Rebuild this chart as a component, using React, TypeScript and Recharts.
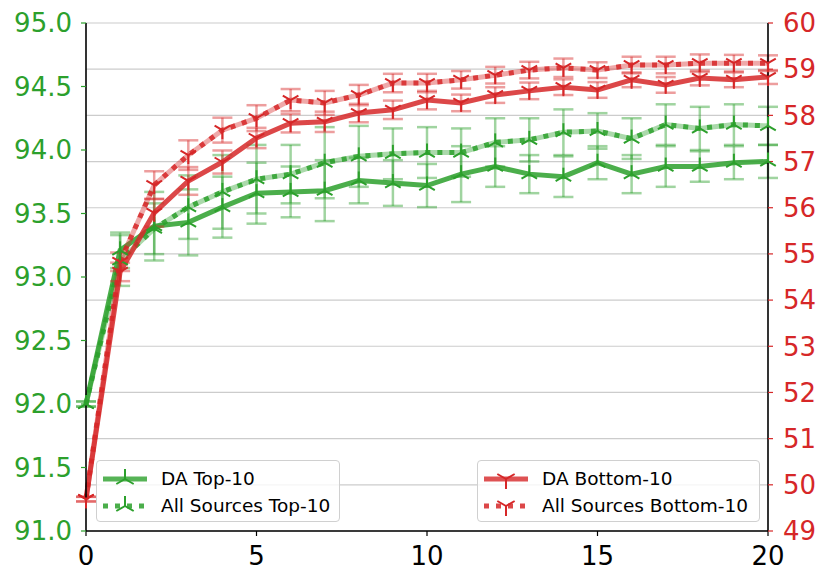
import React from 'react';
import { LineChart, Line, XAxis, YAxis, CartesianGrid, ErrorBar } from 'recharts';

const GREEN = '#2ca02c';
const RED = '#d62728';
const FONT = '"DejaVu Sans", sans-serif';

const epochs = [0, 1, 2, 3, 4, 5, 6, 7, 8, 9, 10, 11, 12, 13, 14, 15, 16, 17, 18, 19, 20];

const daTop = [92.0, 93.21, 93.4, 93.43, 93.55, 93.66, 93.67, 93.68, 93.76, 93.74, 93.72, 93.81, 93.87, 93.81, 93.79, 93.9, 93.81, 93.87, 93.87, 93.9, 93.91];
const daTopErr = [0.02, 0.14, 0.27, 0.26, 0.24, 0.24, 0.2, 0.24, 0.18, 0.18, 0.17, 0.22, 0.16, 0.15, 0.16, 0.13, 0.15, 0.16, 0.12, 0.13, 0.13];

const allTop = [92.0, 93.13, 93.38, 93.55, 93.67, 93.77, 93.81, 93.9, 93.95, 93.97, 93.98, 93.98, 94.06, 94.08, 94.14, 94.15, 94.09, 94.2, 94.17, 94.2, 94.19];
const allTopErr = [0.02, 0.2, 0.2, 0.25, 0.29, 0.27, 0.23, 0.28, 0.24, 0.2, 0.2, 0.19, 0.19, 0.17, 0.18, 0.14, 0.16, 0.16, 0.17, 0.16, 0.15];

const daBottom = [49.69, 54.61, 55.89, 56.58, 56.99, 57.51, 57.83, 57.86, 58.05, 58.12, 58.33, 58.27, 58.44, 58.53, 58.61, 58.55, 58.77, 58.66, 58.81, 58.77, 58.83];
const daBottomErr = [0.05, 0.2, 0.3, 0.3, 0.25, 0.22, 0.2, 0.22, 0.2, 0.2, 0.2, 0.18, 0.17, 0.18, 0.17, 0.17, 0.16, 0.17, 0.16, 0.16, 0.15];

const allBottom = [49.69, 54.83, 56.49, 57.14, 57.68, 57.94, 58.33, 58.27, 58.44, 58.7, 58.7, 58.77, 58.87, 58.98, 59.03, 58.98, 59.09, 59.09, 59.13, 59.13, 59.13];
const allBottomErr = [0.05, 0.2, 0.3, 0.32, 0.27, 0.28, 0.24, 0.26, 0.22, 0.2, 0.2, 0.19, 0.18, 0.18, 0.2, 0.17, 0.18, 0.18, 0.19, 0.18, 0.17];

const leftTicks = [91.0, 91.5, 92.0, 92.5, 93.0, 93.5, 94.0, 94.5, 95.0];
const rightTicks = [49, 50, 51, 52, 53, 54, 55, 56, 57, 58, 59, 60];
const xTicks = [0, 5, 10, 15, 20];

const data = epochs.map((e, i) => ({
  epoch: e,
  daTop: daTop[i],
  daTopErr: daTopErr[i],
  allTop: allTop[i],
  allTopErr: allTopErr[i],
  daBottom: daBottom[i],
  daBottomErr: daBottomErr[i],
  allBottom: allBottom[i],
  allBottomErr: allBottomErr[i],
}));

// matplotlib style tri markers ('2' = tri_up, '1' = tri_down)
const Tri = ({ cx, cy, color, up, r = 9 }: any) => {
  if (cx == null || cy == null) return null;
  const s = up ? 1 : -1;
  const a = r * 0.866;
  const b = r * 0.5;
  return (
    <g stroke={color} strokeWidth={2} strokeLinecap="butt">
      <line x1={cx} y1={cy} x2={cx} y2={cy - s * r} />
      <line x1={cx} y1={cy} x2={cx - a} y2={cy + s * b} />
      <line x1={cx} y1={cy} x2={cx + a} y2={cy + s * b} />
    </g>
  );
};

const dotFn = (color: string, up: boolean) => (p: any) => (
  <Tri key={`d-${p.index}`} cx={p.cx} cy={p.cy} color={color} up={up} />
);

const Handle = ({ color, dotted, up }: { color: string; dotted: boolean; up: boolean }) => (
  <svg width={48} height={20} style={{ display: 'block' }}>
    {dotted ? (
      <line x1={2} y1={10} x2={46} y2={10} stroke={color} strokeOpacity={0.85} strokeWidth={5} strokeDasharray="5 7" />
    ) : (
      <line x1={2} y1={10} x2={46} y2={10} stroke={color} strokeOpacity={0.8} strokeWidth={5} />
    )}
    <Tri cx={24} cy={10} color={color} up={up} r={10} />
  </svg>
);

const LegendBox = ({ left, width, items }: any) => (
  <div
    style={{
      position: 'absolute',
      left,
      top: 460,
      width,
      height: 62,
      boxSizing: 'border-box',
      border: '1px solid #d0d0d0',
      borderRadius: 4,
      background: 'rgba(255,255,255,0.8)',
      fontFamily: FONT,
      fontSize: 18.5,
      color: '#000',
      padding: '4px 0 0 4px',
    }}
  >
    {items.map((it: any) => (
      <div key={it.label} style={{ display: 'flex', alignItems: 'center', height: 27 }}>
        <Handle color={it.color} dotted={it.dotted} up={it.up} />
        <span style={{ marginLeft: 12, whiteSpace: 'nowrap' }}>{it.label}</span>
      </div>
    ))}
  </div>
);

export default function App() {
  return (
    <div style={{ position: 'absolute', left: 0, top: 0, width: 830, height: 585, background: '#fff' }}>
      <LineChart width={830} height={585} data={data} margin={{ top: 23, right: 0, bottom: 0, left: 0 }}>
        <CartesianGrid yAxisId="right" vertical={false} stroke="#cccccc" strokeWidth={1.2} />
        <XAxis
          dataKey="epoch"
          type="number"
          domain={[0, 20]}
          ticks={xTicks}
          height={54}
          tickSize={5}
          tickMargin={11}
          axisLine={{ stroke: '#000', strokeWidth: 1.6 }}
          tickLine={{ stroke: '#000', strokeWidth: 1.2 }}
          tick={{ fill: '#000', fontSize: 26, fontFamily: FONT }}
        />
        <XAxis
          xAxisId="top"
          orientation="top"
          dataKey="epoch"
          type="number"
          domain={[0, 20]}
          height={0}
          tick={false}
          tickLine={false}
          axisLine={{ stroke: '#000', strokeWidth: 1.6 }}
        />
        <YAxis
          yAxisId="left"
          orientation="left"
          type="number"
          domain={[91, 95]}
          ticks={leftTicks}
          width={86}
          tickSize={5}
          tickMargin={9}
          tickFormatter={(v: number) => v.toFixed(1)}
          axisLine={{ stroke: '#000', strokeWidth: 1.6 }}
          tickLine={{ stroke: GREEN, strokeWidth: 1.2 }}
          tick={{ fill: GREEN, fontSize: 26, fontFamily: FONT }}
          allowDataOverflow
        />
        <YAxis
          yAxisId="right"
          orientation="right"
          type="number"
          domain={[49, 60]}
          ticks={rightTicks}
          width={62}
          tickSize={5}
          tickMargin={10}
          axisLine={{ stroke: '#000', strokeWidth: 1.6 }}
          tickLine={{ stroke: RED, strokeWidth: 1.2 }}
          tick={{ fill: RED, fontSize: 26, fontFamily: FONT }}
          allowDataOverflow
        />

        {/* green: top-10 on left axis */}
        <Line yAxisId="left" dataKey="allTop" stroke={GREEN} strokeOpacity={0.4} strokeWidth={5} dot={false} isAnimationActive={false} />
        <Line
          yAxisId="left"
          dataKey="allTop"
          stroke={GREEN}
          strokeOpacity={0.85}
          strokeWidth={5}
          strokeDasharray="5 7"
          dot={dotFn(GREEN, true)}
          isAnimationActive={false}
        >
          <ErrorBar dataKey="allTopErr" direction="y" width={10} stroke={GREEN} strokeOpacity={0.45} strokeWidth={2.5} />
        </Line>
        <Line yAxisId="left" dataKey="daTop" stroke={GREEN} strokeOpacity={0.85} strokeWidth={5} dot={dotFn(GREEN, true)} isAnimationActive={false}>
          <ErrorBar dataKey="daTopErr" direction="y" width={10} stroke={GREEN} strokeOpacity={0.45} strokeWidth={2.5} />
        </Line>

        {/* red: bottom-10 on right axis */}
        <Line yAxisId="right" dataKey="allBottom" stroke={RED} strokeOpacity={0.4} strokeWidth={5} dot={false} isAnimationActive={false} />
        <Line
          yAxisId="right"
          dataKey="allBottom"
          stroke={RED}
          strokeOpacity={0.85}
          strokeWidth={5}
          strokeDasharray="5 7"
          dot={dotFn(RED, false)}
          isAnimationActive={false}
        >
          <ErrorBar dataKey="allBottomErr" direction="y" width={10} stroke={RED} strokeOpacity={0.45} strokeWidth={2.5} />
        </Line>
        <Line yAxisId="right" dataKey="daBottom" stroke={RED} strokeOpacity={0.85} strokeWidth={5} dot={dotFn(RED, false)} isAnimationActive={false}>
          <ErrorBar dataKey="daBottomErr" direction="y" width={10} stroke={RED} strokeOpacity={0.45} strokeWidth={2.5} />
        </Line>
      </LineChart>

      <LegendBox
        left={96}
        width={244}
        items={[
          { label: 'DA Top-10', color: GREEN, dotted: false, up: true },
          { label: 'All Sources Top-10', color: GREEN, dotted: true, up: true },
        ]}
      />
      <LegendBox
        left={477}
        width={283}
        items={[
          { label: 'DA Bottom-10', color: RED, dotted: false, up: false },
          { label: 'All Sources Bottom-10', color: RED, dotted: true, up: false },
        ]}
      />
    </div>
  );
}
